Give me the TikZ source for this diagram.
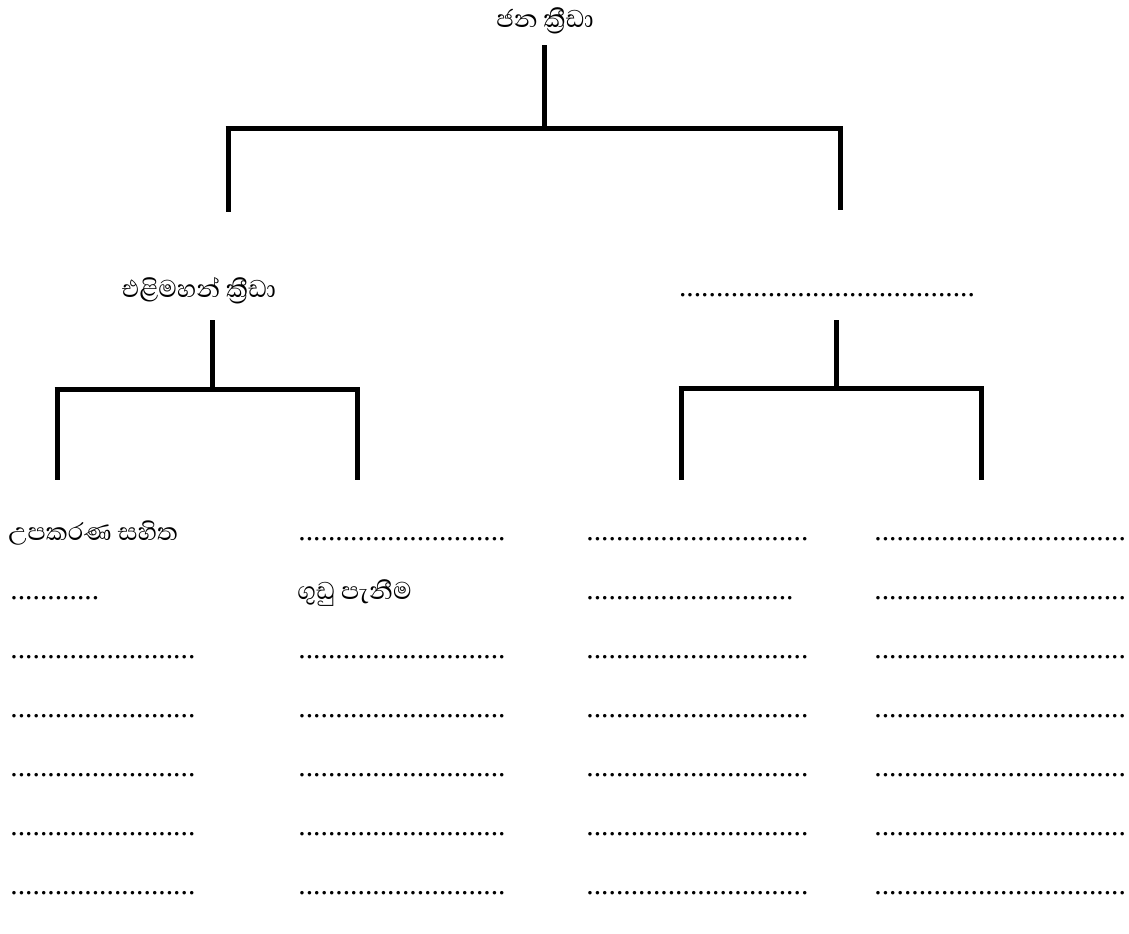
\documentclass[tikz,border=0pt]{standalone}
\usepackage{fontspec}
\setmainfont{Liberation Serif}
\newfontfamily\sinhala[Script=Sinhala]{Abhaya Libre}
\newcommand{\dotrow}[1]{\foreach \i in {1,...,#1}{.}}

\tikzset{
  bar/.style={line width=2.5pt},
  lbl/.style={font=\sinhala\fontsize{15.5}{18}\selectfont, inner sep=0pt},
  blank/.style={font=\fontsize{14.8}{18}\selectfont, inner sep=0pt},
}

\begin{document}
\begin{tikzpicture}[x=0.5pt, y=-0.5pt]

  \useasboundingbox (0,0) rectangle (1129,933);

  \def\rowgap{59}
  \def\firstrow{540}

  % top level
  \node[lbl, anchor=base] (jana) at (545,27) {ජන ක්^^^^200dරීඩා};
  \coordinate (jtop) at (544,45);
  \coordinate (jmid) at (544,128);
  \coordinate (jleft) at (228,128);
  \coordinate (jright) at (840,128);
  \draw[bar] (jtop) -- (jmid);
  \draw[bar] ([xshift=-1.25pt]jleft) -- ([xshift=1.25pt]jright);
  \draw[bar] (jleft) -- ++(0,84);
  \draw[bar] (jright) -- ++(0,82);

  % second level
  \node[lbl, anchor=base] (eli) at (199,297) {එළිමහන් ක්^^^^200dරීඩා};
  \node[blank, anchor=base] (other) at (827,296) {\dotrow{40}};

  \coordinate (etop) at (212,320);
  \coordinate (emid) at (212,389);
  \coordinate (eleft) at (57,389);
  \coordinate (eright) at (357,389);
  \draw[bar] (etop) -- (emid);
  \draw[bar] ([xshift=-1.25pt]eleft) -- ([xshift=1.25pt]eright);
  \draw[bar] (eleft) -- ++(0,91);
  \draw[bar] (eright) -- ++(0,91);

  \coordinate (otop) at (836,320);
  \coordinate (omid) at (836,388);
  \coordinate (oleft) at (681,388);
  \coordinate (oright) at (981,388);
  \draw[bar] (otop) -- (omid);
  \draw[bar] ([xshift=-1.25pt]oleft) -- ([xshift=1.25pt]oright);
  \draw[bar] (oleft) -- ++(0,92);
  \draw[bar] (oright) -- ++(0,92);

  % leaf rows
  \node[lbl, anchor=base west] (upa) at (8,\firstrow) {උපකරණ සහිත};
  \node[blank, anchor=base west] (d12) at (298,\firstrow) {\dotrow{28}};
  \node[blank, anchor=base west] (d13) at (586,\firstrow) {\dotrow{30}};
  \node[blank, anchor=base west] (d14) at (874,\firstrow) {\dotrow{34}};

  \node[blank, anchor=base west] (d21) at (10,\firstrow+\rowgap) {\dotrow{12}};
  \node[lbl, anchor=base west] (gudu) at (297,\firstrow+\rowgap) {ගුඩු පැනීම};
  \node[blank, anchor=base west] (d23) at (586,\firstrow+\rowgap) {\dotrow{28}};
  \node[blank, anchor=base west] (d24) at (874,\firstrow+\rowgap) {\dotrow{34}};

  \foreach \r in {3,...,7} {
    \foreach \c/\x/\n in {1/10/25, 2/298/28, 3/586/30, 4/874/34} {
      \node[blank, anchor=base west] (d\r\c) at (\x,{\firstrow+(\r-1)*\rowgap}) {\dotrow{\n}};
    }
  }

\end{tikzpicture}
\end{document}
